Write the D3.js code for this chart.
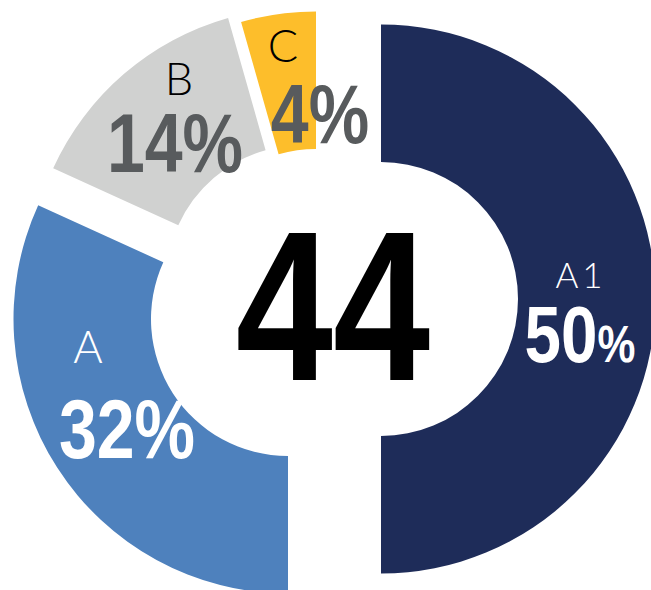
<!DOCTYPE html>
<html>
<head>
<meta charset="utf-8">
<script src="https://cdn.jsdelivr.net/npm/d3@7"></script>
<style>
  body { margin: 0; background: #fff; }
  svg { display: block; }
</style>
</head>
<body>
<svg></svg>
<script>
// slice data (clockwise from 12 o'clock)
const categories = ["A1", "A", "B", "C"];
const shares = [50, 31.8, 13.8, 4.4];
const colors = ["#1e2c59", "#4e81bd", "#d0d1d0", "#fdbe2b"];
const totalLabel = "44";

const width = 651, height = 590;
const outerR = 274.5, innerR = 137;

// each slice sits on its own centre (hand-placed, like the source chart)
const sliceCenters = [[381, 299], [288, 319], [303, 282], [316, 286]];
// label positions: [catX, catY, pctX, pctY]
const labelPos = [
  [581, 288, 580, 362],
  [88, 363, 127, 458],
  [179, 95, 175, 172],
  [283, 62, 320, 143]
];
const catColor = ["#ffffff", "#ffffff", "#000000", "#000000"];
const pctColor = ["#ffffff", "#ffffff", "#585b5d", "#585b5d"];

const svg = d3.select("svg")
    .attr("width", width)
    .attr("height", height);

const pie = d3.pie().sort(null).value(d => d);
const arcs = pie(shares);

const arc = d3.arc()
    .innerRadius(innerR)
    .outerRadius(outerR);

svg.selectAll("path.slice")
    .data(arcs)
    .enter()
    .append("path")
    .attr("class", "slice")
    .attr("transform", (d, i) => `translate(${sliceCenters[i][0]},${sliceCenters[i][1]})`)
    .attr("d", arc)
    .attr("fill", (d, i) => colors[i]);

// no narrow font installed, so squeeze Liberation Sans bold instead
const condensed = "'Liberation Sans', Arial, sans-serif";
const squeeze = 0.82;
const thin = "Lato, 'Open Sans', sans-serif";

// category names
svg.selectAll("text.cat")
    .data(categories)
    .enter()
    .append("text")
    .attr("class", "cat")
    .attr("x", (d, i) => labelPos[i][0])
    .attr("y", (d, i) => labelPos[i][1])
    .attr("text-anchor", "middle")
    .style("font-family", thin)
    .style("font-weight", 300)
    .style("font-size", (d, i) => i === 0 ? "35px" : "45px")
    .style("letter-spacing", (d, i) => i === 0 ? "4px" : "0px")
    .style("fill", (d, i) => catColor[i])
    .text(d => d);

// percentages
const pct = svg.selectAll("text.pct")
    .data(shares)
    .enter()
    .append("text")
    .attr("class", "pct")
    .attr("transform", (d, i) => `translate(${labelPos[i][2]},${labelPos[i][3]}) scale(${squeeze},1)`)
    .attr("text-anchor", "middle")
    .style("font-family", condensed)
    .style("font-weight", 700)
    .style("font-size", (d, i) => i === 0 ? "80px" : "83px")
    .style("fill", (d, i) => pctColor[i]);

pct.append("tspan").text(d => Math.round(d));
pct.append("tspan")
    .style("font-size", (d, i) => i === 0 ? "52px" : null)
    .text("%");

// centre total
svg.append("text")
    .attr("transform", `translate(333,380) scale(${squeeze},1)`)
    .attr("text-anchor", "middle")
    .style("font-family", condensed)
    .style("font-weight", 700)
    .style("font-size", "213px")
    .style("fill", "#000")
    .text(totalLabel);
</script>
</body>
</html>
